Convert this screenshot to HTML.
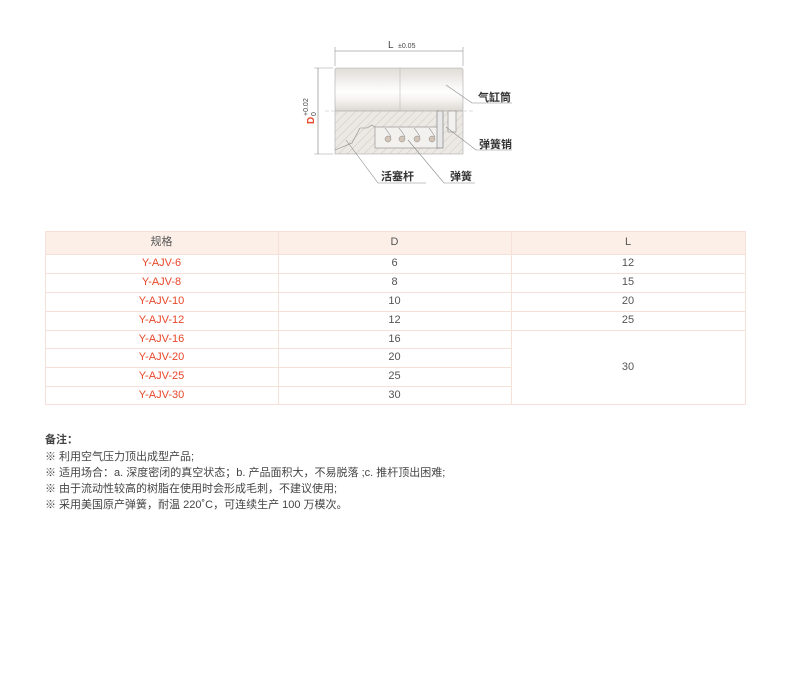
<!DOCTYPE html>
<html><head><meta charset="utf-8"><style>
body{margin:0;width:790px;height:678px;background:#fff;position:relative;font-family:"Liberation Sans","Noto Sans CJK SC",sans-serif;overflow:hidden}
.c{position:absolute;text-align:center;font-size:11px;color:#555;box-sizing:border-box;height:19px;line-height:19px}
.r{color:#e8472a}
.h{position:absolute;height:1px;background:#f5e1d8}
.v{position:absolute;width:1px;background:#f5e1d8}
.n{position:absolute;left:45px;font-size:11px;color:#444;white-space:nowrap;line-height:14px}
</style></head><body>
<svg width="790" height="200" style="position:absolute;left:0;top:0" font-family="Liberation Sans, Noto Sans CJK SC, sans-serif">
<defs>
<linearGradient id="g" x1="0" y1="0" x2="0" y2="1">
<stop offset="0" stop-color="#e0dcd6"/><stop offset="0.55" stop-color="#ffffff"/><stop offset="0.75" stop-color="#f4f2ef"/><stop offset="1" stop-color="#dcd8d2"/></linearGradient>
<pattern id="hp" width="6" height="6" patternUnits="userSpaceOnUse" patternTransform="rotate(45)"><rect width="6" height="6" fill="#ece9e4"/><line x1="0" y1="0" x2="0" y2="6" stroke="#b8b4ae" stroke-width="0.6"/></pattern>
</defs>
<line x1="335" y1="47" x2="335" y2="66" stroke="#999" stroke-width="0.6"/>
<line x1="463" y1="47" x2="463" y2="66" stroke="#999" stroke-width="0.6"/>
<line x1="335" y1="51" x2="463" y2="51" stroke="#777" stroke-width="0.6"/>
<text x="388" y="48" font-size="10" fill="#444">L</text><text x="398" y="48" font-size="7" fill="#444">±0.05</text>
<line x1="314" y1="68" x2="333" y2="68" stroke="#999" stroke-width="0.6"/>
<line x1="314" y1="154" x2="333" y2="154" stroke="#999" stroke-width="0.6"/>
<line x1="318" y1="68" x2="318" y2="154" stroke="#777" stroke-width="0.6"/>
<g transform="translate(314,124) rotate(-90)"><text x="0" y="0" font-size="10" fill="#e8472a" font-weight="bold">D</text><text x="8" y="-6" font-size="7" fill="#444">+0.02</text><text x="8" y="2" font-size="7" fill="#444">0</text></g>
<rect x="335" y="68" width="128" height="43" rx="2" fill="url(#g)" stroke="#aaa" stroke-width="0.6"/>
<line x1="400" y1="68" x2="400" y2="111" stroke="#bbb" stroke-width="0.6"/>
<rect x="335" y="111" width="128" height="43" fill="url(#hp)" stroke="#aaa" stroke-width="0.6"/>
<rect x="375" y="127" width="65" height="21" fill="#f3f1ee" stroke="#888" stroke-width="0.6"/>
<path d="M360 128 L367 128 L372 125 L375 127" fill="none" stroke="#888" stroke-width="0.6"/>
<path d="M335 150 L352 143 L360 128" fill="none" stroke="#888" stroke-width="0.6"/>
<g fill="#d2c4b6" stroke="#888" stroke-width="0.5">
<circle cx="388" cy="139" r="3"/><circle cx="402" cy="139" r="3"/><circle cx="417" cy="139" r="3"/><circle cx="432" cy="139" r="3"/></g>
<g stroke="#888" stroke-width="0.6" fill="none"><path d="M385 128 Q389 133 391 137"/><path d="M399 128 Q403 133 405 137"/><path d="M414 128 Q418 133 420 137"/><path d="M429 128 Q433 133 435 137"/></g>
<rect x="437" y="111" width="6" height="37" fill="#e8e8e8" stroke="#777" stroke-width="0.6"/>
<rect x="448" y="111" width="8" height="21" fill="#f3f1ee" stroke="#888" stroke-width="0.6"/>
<line x1="325" y1="111" x2="475" y2="111" stroke="#bbb" stroke-width="0.5" stroke-dasharray="4 2"/>
<g stroke="#888" stroke-width="0.6" fill="none">
<polyline points="446,85 472,103 512,103"/>
<polyline points="446,127 476,150 512,150"/>
<polyline points="346,140 378,183 426,183"/>
<polyline points="408,140 444,183 475,183"/>
</g>
<g font-size="11" fill="#333" font-weight="bold"><text x="478" y="101">气缸筒</text><text x="479" y="148">弹簧销</text><text x="381" y="180">活塞杆</text><text x="450" y="180">弹簧</text></g>
</svg>
<div style="position:absolute;left:45px;top:231px;width:700px;height:23px;background:#fcefe8"></div>
<div class="h" style="left:45px;top:231px;width:700px"></div>
<div class="h" style="left:45px;top:254px;width:700px"></div>
<div class="h" style="left:45px;top:273px;width:700px"></div>
<div class="h" style="left:45px;top:292px;width:700px"></div>
<div class="h" style="left:45px;top:311px;width:700px"></div>
<div class="h" style="left:45px;top:330px;width:700px"></div>
<div class="h" style="left:45px;top:348px;width:466px"></div>
<div class="h" style="left:45px;top:367px;width:466px"></div>
<div class="h" style="left:45px;top:386px;width:466px"></div>
<div class="h" style="left:45px;top:404px;width:701px"></div>
<div class="v" style="left:45px;top:231px;height:174px"></div>
<div class="v" style="left:278px;top:231px;height:174px"></div>
<div class="v" style="left:511px;top:231px;height:174px"></div>
<div class="v" style="left:745px;top:231px;height:174px"></div>
<div class="c" style="left:45px;top:233px;width:233px">规格</div>
<div class="c" style="left:278px;top:233px;width:233px">D</div>
<div class="c" style="left:511px;top:233px;width:234px">L</div>
<div class="c r" style="left:45px;top:254px;width:233px">Y-AJV-6</div><div class="c" style="left:278px;top:254px;width:233px">6</div><div class="c" style="left:511px;top:254px;width:234px">12</div>
<div class="c r" style="left:45px;top:273px;width:233px">Y-AJV-8</div><div class="c" style="left:278px;top:273px;width:233px">8</div><div class="c" style="left:511px;top:273px;width:234px">15</div>
<div class="c r" style="left:45px;top:292px;width:233px">Y-AJV-10</div><div class="c" style="left:278px;top:292px;width:233px">10</div><div class="c" style="left:511px;top:292px;width:234px">20</div>
<div class="c r" style="left:45px;top:311px;width:233px">Y-AJV-12</div><div class="c" style="left:278px;top:311px;width:233px">12</div><div class="c" style="left:511px;top:311px;width:234px">25</div>
<div class="c r" style="left:45px;top:330px;width:233px">Y-AJV-16</div><div class="c" style="left:278px;top:330px;width:233px">16</div>
<div class="c r" style="left:45px;top:348px;width:233px">Y-AJV-20</div><div class="c" style="left:278px;top:348px;width:233px">20</div>
<div class="c r" style="left:45px;top:367px;width:233px">Y-AJV-25</div><div class="c" style="left:278px;top:367px;width:233px">25</div>
<div class="c r" style="left:45px;top:386px;width:233px">Y-AJV-30</div><div class="c" style="left:278px;top:386px;width:233px">30</div>
<div class="c" style="left:511px;top:358px;width:234px">30</div>
<div class="n" style="top:433px;font-weight:bold">备注：</div>
<div class="n" style="top:450px">※ 利用空气压力顶出成型产品;</div>
<div class="n" style="top:466px">※ 适用场合：a. 深度密闭的真空状态；b. 产品面积大，不易脱落 ;c. 推杆顶出困难;</div>
<div class="n" style="top:482px">※ 由于流动性较高的树脂在使用时会形成毛刺，不建议使用;</div>
<div class="n" style="top:498px">※ 采用美国原产弹簧，耐温 220˚C，可连续生产 100 万模次。</div>
</body></html>
